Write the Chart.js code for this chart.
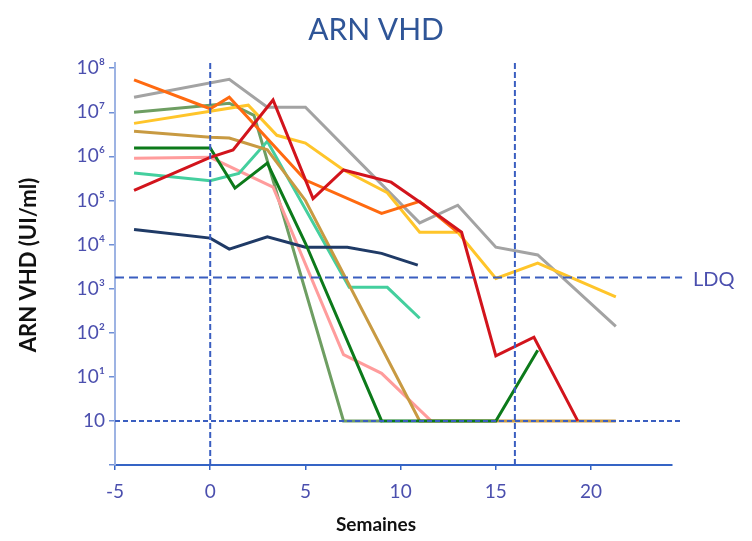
<!DOCTYPE html>
<html>
<head>
<meta charset="utf-8">
<title>ARN VHD</title>
<script src="https://cdn.jsdelivr.net/npm/chart.js@4.4.1/dist/chart.umd.min.js"></script>
<style>
  html, body { margin: 0; padding: 0; background: #fff; }
  #wrap { width: 752px; height: 541px; }
</style>
</head>
<body>
<div id="wrap"><canvas id="vhdChart" width="752" height="541"></canvas></div>
<script>
// Viral load per patient (UI/ml) against weeks of treatment.
// Undetectable results are plotted on the bottom "10" line (value 1).
const weeksGray = [-4, 1, 3, 5, 11, 13, 15, 17.2, 21.3];
const vhdGray = [2.2e7, 5.6e7, 1.3e7, 1.3e7, 3.1e4, 7.8e4, 8.7e3, 5.8e3, 140];

const weeksOrange = [-4, 0, 1, 5, 9, 11, 13];
const vhdOrange = [5.4e7, 1.2e7, 2.2e7, 2.9e5, 5.1e4, 9.5e4, 1.9e4];

const weeksSage = [-4, 0, 1, 2.3, 7, 9];
const vhdSage = [1e7, 1.45e7, 1.6e7, 8.5e6, 1, 1];

const weeksYellow = [-4, 0, 2, 3.5, 5, 7, 9.3, 11, 13, 15, 17.2, 21.3];
const vhdYellow = [5.6e6, 1.05e7, 1.45e7, 3e6, 2e6, 4.9e5, 1.5e5, 1.9e4, 1.9e4, 1.7e3, 3.8e3, 650];

const weeksTan = [-4, 0, 1, 3, 5, 11, 21.3];
const vhdTan = [3.7e6, 2.7e6, 2.6e6, 1.4e6, 1e5, 1, 1];

const weeksGreen = [-4, 0, 1.3, 3, 5, 9, 15, 17.2];
const vhdGreen = [1.55e6, 1.55e6, 1.9e5, 7e5, 1.07e4, 1, 1, 40];

const weeksPink = [-4, 0, 3.3, 7, 9, 11.6];
const vhdPink = [9.1e5, 9.5e5, 2e5, 32, 12, 1];

const weeksTeal = [-4, 0, 1.5, 3, 7.3, 9.3, 11];
const vhdTeal = [4.2e5, 2.8e5, 4.1e5, 2.2e6, 1.07e3, 1.07e3, 213];

const weeksRed = [-4, 0, 1.2, 3.3, 5.4, 7, 9.5, 11, 13.2, 15, 17, 19.3];
const vhdRed = [1.7e5, 9.5e5, 1.4e6, 1.9e7, 1.1e5, 4.9e5, 2.6e5, 9.2e4, 1.9e4, 30, 79, 1];

const weeksNavy = [-4, 0, 1, 3, 5, 7.2, 9, 10.9];
const vhdNavy = [2.2e4, 1.4e4, 7.9e3, 1.5e4, 8.7e3, 8.7e3, 6.3e3, 3.4e3];

// axis ticks
const xTickValues = [-5, 0, 5, 10, 15, 20];
const yTickValues = [0.1, 1, 10, 1e2, 1e3, 1e4, 1e5, 1e6, 1e7, 1e8];
const yTickLabels = ['', '10', '10¹', '10²', '10³', '10⁴', '10⁵', '10⁶', '10⁷', '10⁸'];

// reference levels
const ldqLevel = 1780;
const undetectLevel = 1;
const refWeeks = [0, 16];

const FONT = 'Lato, "Open Sans", sans-serif';
const TICK_COLOR = '#4B4FAE';
const REF_COLOR = '#3A5EC0';

const series = [
  { color: '#D2141C', weeks: weeksRed, vhd: vhdRed },
  { color: '#0C7A1A', weeks: weeksGreen, vhd: vhdGreen },
  { color: '#1F3A66', weeks: weeksNavy, vhd: vhdNavy },
  { color: '#FF6A10', weeks: weeksOrange, vhd: vhdOrange },
  { color: '#FFC52A', weeks: weeksYellow, vhd: vhdYellow },
  { color: '#C89A42', weeks: weeksTan, vhd: vhdTan },
  { color: '#44CF9E', weeks: weeksTeal, vhd: vhdTeal },
  { color: '#FF9C9C', weeks: weeksPink, vhd: vhdPink },
  { color: '#6E9E62', weeks: weeksSage, vhd: vhdSage },
  { color: '#A3A3A3', weeks: weeksGray, vhd: vhdGray }
];

function toPoints(xs, ys) {
  return xs.map((x, i) => ({ x: x, y: ys[i] }));
}

const yMin = 0.1;
const yMax = 1.31e8;
const xMin = -5;
const xMax = 24.25;
const refLineEnd = 24.78;

const datasets = series.map(s => ({
  data: toPoints(s.weeks, s.vhd),
  borderColor: s.color,
  borderWidth: 3,
  pointRadius: 0,
  tension: 0,
  order: 1
}));

// dashed reference lines, drawn over the patient curves
function refLine(points, dash) {
  return {
    data: points,
    borderColor: REF_COLOR,
    borderWidth: 2,
    borderDash: dash,
    pointRadius: 0,
    clip: false,
    order: 0
  };
}
datasets.push(refLine([{ x: xMin, y: ldqLevel }, { x: refLineEnd, y: ldqLevel }], [9, 5]));
datasets.push(refLine([{ x: xMin, y: undetectLevel }, { x: refLineEnd, y: undetectLevel }], [5, 3]));
refWeeks.forEach(w => {
  datasets.push(refLine([{ x: w, y: yMin }, { x: w, y: yMax }], [6, 3]));
});

// title, axis titles and the LDQ tag
const labelsPlugin = {
  id: 'chartLabels',
  afterDraw(chart) {
    const ctx = chart.ctx;
    ctx.save();
    ctx.textAlign = 'center';

    ctx.fillStyle = '#2F5597';
    ctx.font = '30px ' + FONT;
    ctx.textBaseline = 'alphabetic';
    ctx.fillText('ARN VHD', 376, 40);

    ctx.fillStyle = '#111';
    ctx.textBaseline = 'middle';
    ctx.font = 'bold 19px ' + FONT;
    ctx.fillText('Semaines', 376, 525);
    ctx.save();
    ctx.translate(29, 265);
    ctx.rotate(-Math.PI / 2);
    ctx.font = 'bold 22px ' + FONT;
    ctx.fillText('ARN VHD (UI/ml)', 0, 0);
    ctx.restore();

    ctx.fillStyle = TICK_COLOR;
    ctx.font = '20px ' + FONT;
    ctx.textAlign = 'left';
    ctx.fillText('LDQ', chart.chartArea.right + 21, chart.scales.y.getPixelForValue(ldqLevel) + 2);
    ctx.restore();
  }
};

new Chart(document.getElementById('vhdChart'), {
  type: 'line',
  data: { datasets: datasets },
  options: {
    responsive: false,
    animation: false,
    layout: { padding: { top: 63, left: 0, right: 80, bottom: 0 } },
    plugins: {
      legend: { display: false },
      tooltip: { enabled: false },
      title: { display: false }
    },
    scales: {
      x: {
        type: 'linear',
        min: xMin,
        max: xMax,
        afterBuildTicks: scale => { scale.ticks = xTickValues.map(v => ({ value: v })); },
        afterFit: scale => { scale.height = 76; },
        border: { color: '#3564C5', width: 2 },
        grid: { drawOnChartArea: false, tickLength: 5, color: '#3564C5', lineWidth: 1.5 },
        ticks: { padding: 10, color: TICK_COLOR, font: { family: FONT, size: 19 } }
      },
      y: {
        type: 'logarithmic',
        min: yMin,
        max: yMax,
        afterBuildTicks: scale => { scale.ticks = yTickValues.map(v => ({ value: v })); },
        afterFit: scale => { scale.width = 115; },
        border: { color: '#9DB3E3', width: 2 },
        grid: { drawOnChartArea: false, tickLength: 6, color: '#6F8FD6', lineWidth: 1.5 },
        ticks: {
          padding: 4,
          autoSkip: false,
          color: TICK_COLOR,
          font: { family: FONT, size: 19 },
          callback: (value, index) => yTickLabels[index]
        }
      }
    }
  },
  plugins: [labelsPlugin]
});
</script>
</body>
</html>
